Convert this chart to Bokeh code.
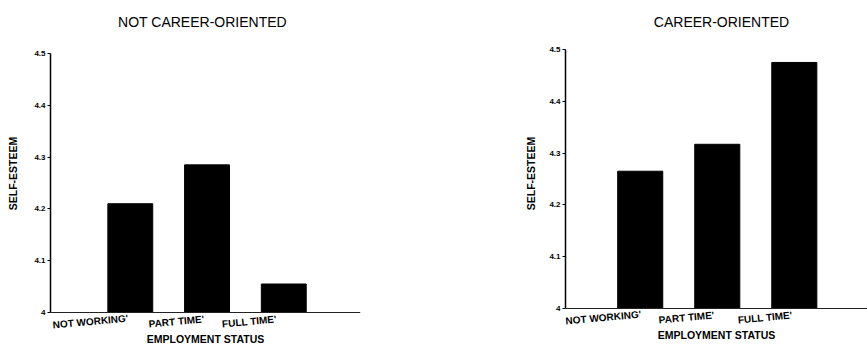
from bokeh.plotting import figure
from bokeh.layouts import row
from bokeh.models import Range1d, FixedTicker, Span
from bokeh.core.properties import value
from bokeh.embed import file_html
from bokeh.resources import INLINE

categories = ["NOT WORKING'", "PART TIME'", "FULL TIME'"]
not_career = [4.21, 4.285, 4.055]
career = [4.265, 4.317, 4.475]
y_ticks = [4.0, 4.1, 4.2, 4.3, 4.4, 4.5]
y_tick_labels = ["4", "4.1", "4.2", "4.3", "4.4", "4.5"]
label_x_left = [0.48, 1.60, 2.55]
label_x_right = [0.52, 1.60, 2.62]
titles = ["NOT CAREER-ORIENTED", "CAREER-ORIENTED"]
x_title = "EMPLOYMENT STATUS"
y_title = "SELF-ESTEEM"

FONT = "Liberation Sans"
Y_MIN, Y_MAX = 4.0, 4.5
AXIS_PX = 259   # pixel length of the 4.0-4.5 axis
HEIGHT = 346


def make(title, values, label_x, width, x_start, x_end, border_left, border_right,
         axis_top, title_dx, ylab_standoff):
    # the frame fills the whole height; the axis itself spans 4.0-4.5 only
    units_per_px = (Y_MAX - Y_MIN) / AXIS_PX
    y_top = Y_MAX + axis_top * units_per_px
    y_floor = Y_MAX - (HEIGHT - axis_top) * units_per_px
    xs = [i + 1 for i in range(len(categories))]
    p = figure(width=width, height=HEIGHT, output_backend="svg", toolbar_location=None,
               x_range=Range1d(x_start, x_end), y_range=Range1d(y_floor, y_top),
               x_axis_location=None,
               min_border_left=border_left, min_border_right=border_right,
               min_border_top=0, min_border_bottom=0)
    p.vbar(x=xs, top=values, bottom=Y_MIN, width=0.585, color="black")
    p.grid.visible = False
    p.outline_line_color = None
    p.background_fill_color = "white"
    p.border_fill_color = "white"

    # y axis
    ya = p.yaxis[0]
    ya.bounds = (Y_MIN, Y_MAX)
    ya.ticker = FixedTicker(ticks=y_ticks)
    ya.major_label_overrides = dict(zip(y_ticks, y_tick_labels))
    ya.major_label_text_font = FONT
    ya.major_label_text_font_size = "8px"
    ya.major_label_text_font_style = "bold"
    ya.major_label_text_color = "black"
    ya.major_tick_out = 3
    ya.major_tick_in = 0
    ya.minor_tick_line_color = None
    ya.major_label_standoff = 2
    ya.axis_line_color = "black"
    ya.axis_line_width = 1.5
    ya.axis_label = y_title
    ya.axis_label_text_font = FONT
    ya.axis_label_text_font_size = "10.5px"
    ya.axis_label_text_font_style = "bold"
    ya.axis_label_text_color = "black"
    ya.axis_label_standoff = ylab_standoff

    # x axis baseline
    p.add_layout(Span(location=Y_MIN, dimension="width", line_color="#222222", line_width=1))

    x_mid = (x_start + x_end) / 2
    # panel title
    p.text(x=[x_mid], y=[Y_MAX], text=[title], x_offset=title_dx, y_offset=-(axis_top - 21.5),
           text_align="center", text_baseline="middle",
           text_font=value(FONT), text_font_size="14px", text_color="black")
    # category labels (slightly tilted, as in the original)
    p.text(x=label_x, y=[Y_MIN] * len(label_x), text=categories, y_offset=9,
           angle=0.09, text_align="center", text_baseline="middle",
           text_font=value(FONT), text_font_size="10px",
           text_font_style="bold", text_color="black")
    # x axis title
    p.text(x=[x_mid], y=[Y_MIN], text=[x_title], y_offset=26,
           text_align="center", text_baseline="middle",
           text_font=value(FONT), text_font_size="10.5px",
           text_font_style="bold", text_color="black")
    return p


p1 = make(titles[0], not_career, label_x_left, 438, -0.04, 4.0, 50, 78, 53, -3, 12)
p2 = make(titles[1], career, label_x_right, 429, 0.03, 3.95, 127, 0, 49, 5, 9)
layout = row(p1, p2, spacing=0)

open("out.html", "w").write(file_html(layout, INLINE))
